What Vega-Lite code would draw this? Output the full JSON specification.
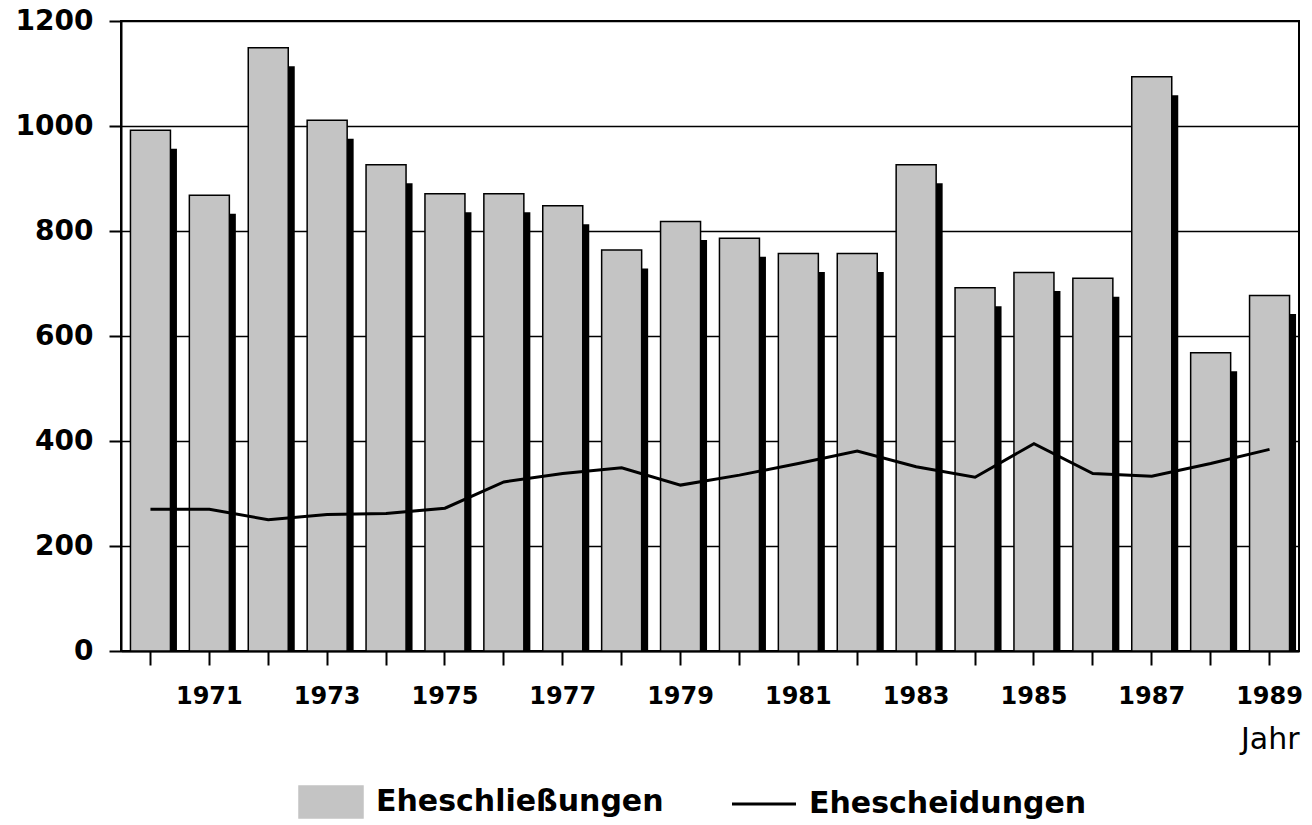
{
  "$schema": "https://vega.github.io/schema/vega-lite/v6.json",
  "width": 1178,
  "height": 630,
  "autosize": {"type": "none"},
  "padding": {"left": 121, "top": 21, "right": 13, "bottom": 174},
  "background": "white",
  "config": {
    "font": "DejaVu Sans",
    "view": {"stroke": "black", "strokeWidth": 2},
    "axis": {"labelColor": "black", "titleColor": "black", "domainColor": "black", "tickColor": "black"}
  },
  "data": {
    "values": [
      {"Jahr": 1970, "Schliessungen": 992, "Scheidungen": 270},
      {"Jahr": 1971, "Schliessungen": 868, "Scheidungen": 270},
      {"Jahr": 1972, "Schliessungen": 1149, "Scheidungen": 250},
      {"Jahr": 1973, "Schliessungen": 1011, "Scheidungen": 260},
      {"Jahr": 1974, "Schliessungen": 926, "Scheidungen": 262},
      {"Jahr": 1975, "Schliessungen": 871, "Scheidungen": 272},
      {"Jahr": 1976, "Schliessungen": 871, "Scheidungen": 322},
      {"Jahr": 1977, "Schliessungen": 848, "Scheidungen": 338},
      {"Jahr": 1978, "Schliessungen": 764, "Scheidungen": 349},
      {"Jahr": 1979, "Schliessungen": 818, "Scheidungen": 316},
      {"Jahr": 1980, "Schliessungen": 786, "Scheidungen": 335},
      {"Jahr": 1981, "Schliessungen": 757, "Scheidungen": 357},
      {"Jahr": 1982, "Schliessungen": 757, "Scheidungen": 381},
      {"Jahr": 1983, "Schliessungen": 926, "Scheidungen": 351},
      {"Jahr": 1984, "Schliessungen": 692, "Scheidungen": 331},
      {"Jahr": 1985, "Schliessungen": 721, "Scheidungen": 395},
      {"Jahr": 1986, "Schliessungen": 710, "Scheidungen": 338},
      {"Jahr": 1987, "Schliessungen": 1094, "Scheidungen": 333},
      {"Jahr": 1988, "Schliessungen": 568, "Scheidungen": 357},
      {"Jahr": 1989, "Schliessungen": 677, "Scheidungen": 384}
    ]
  },
  "encoding": {
    "x": {
      "field": "Jahr",
      "type": "ordinal",
      "scale": {"type": "band", "paddingInner": 0, "paddingOuter": 0},
      "axis": {
        "title": "Jahr",
        "labelAngle": 0,
        "labelExpr": "datum.value % 2 == 1 ? datum.label : ''",
        "labelOverlap": false,
        "labelFont": "DejaVu Sans",
        "labelFontWeight": "bold",
        "labelFontSize": 24,
        "labelPadding": 19,
        "tickSize": 14,
        "tickWidth": 2,
        "domainWidth": 2,
        "titleFont": "DejaVu Sans",
        "titleFontWeight": "normal",
        "titleFontSize": 30,
        "titleAnchor": "end",
        "titleAlign": "right",
        "titlePadding": 16
      }
    }
  },
  "layer": [
    {
      "mark": {"type": "bar", "color": "black", "width": 40, "xOffset": 6.5, "yOffset": 18.5, "clip": true},
      "encoding": {
        "y": {
          "field": "Schliessungen",
          "type": "quantitative",
          "title": null,
          "scale": {"domain": [0, 1200], "nice": false},
          "axis": {
            "values": [0, 200, 400, 600, 800, 1000, 1200],
            "format": "d",
            "grid": true,
            "gridColor": "black",
            "gridWidth": 1.5,
            "gridOpacity": 1,
            "labelFont": "DejaVu Sans",
            "labelFontWeight": "bold",
            "labelFontSize": 28,
            "labelPadding": 16,
            "tickSize": 12,
            "tickWidth": 2,
            "domainWidth": 2
          }
        }
      }
    },
    {
      "mark": {"type": "bar", "width": 40, "stroke": "black", "strokeWidth": 1.5},
      "encoding": {
        "y": {"field": "Schliessungen", "type": "quantitative", "title": null},
        "color": {
          "datum": "Eheschließungen",
          "scale": {"domain": ["Eheschließungen", "Ehescheidungen"], "range": ["#c4c4c4", "#000000"]},
          "legend": {
            "orient": "none",
            "legendX": 195,
            "legendY": 766,
            "direction": "horizontal",
            "columns": 2,
            "title": null,
            "padding": 0,
            "symbolSize": 4096,
            "symbolType": {"expr": "datum.value === 'Ehescheidungen' ? 'M-1,0H1' : 'M-1,-0.5H1V0.5H-1Z'"},
            "symbolStrokeWidth": {"expr": "datum.value === 'Ehescheidungen' ? 3 : 1.5"},
            "symbolStrokeColor": "black",
            "labelFont": "DejaVu Sans",
            "labelFontWeight": "bold",
            "labelFontSize": 30,
            "labelColor": "black",
            "labelLimit": 600,
            "labelOffset": 30,
            "columnPadding": 62
          }
        }
      }
    },
    {
      "mark": {"type": "line", "strokeWidth": 3, "interpolate": "linear"},
      "encoding": {
        "y": {"field": "Scheidungen", "type": "quantitative", "title": null},
        "color": {"datum": "Ehescheidungen"}
      }
    }
  ]
}
